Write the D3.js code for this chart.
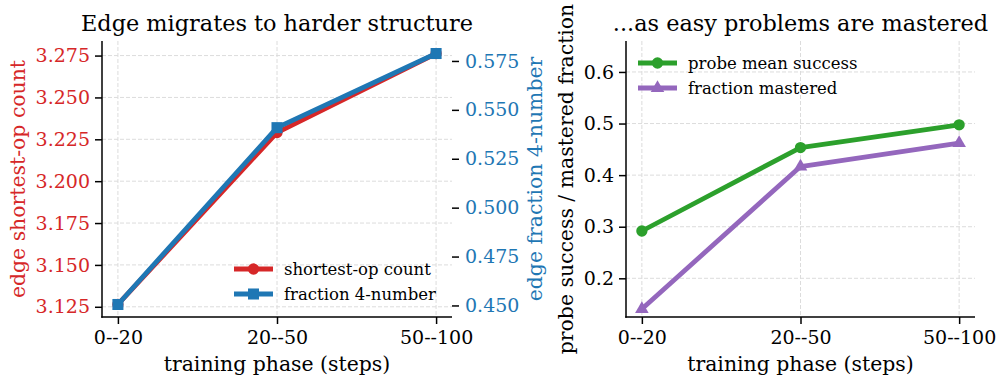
<!DOCTYPE html>
<html>
<head>
<meta charset="utf-8">
<script src="https://cdn.jsdelivr.net/npm/d3@7"></script>
<style>
  body { margin: 0; background: #fff; }
  svg { display: block; font-family: "DejaVu Serif", serif; }
</style>
</head>
<body>
<svg id="chart" width="997" height="381"></svg>
<script>
const phases = ["0--20", "20--50", "50--100"];
const shortestOp = [3.1264, 3.2290, 3.2762];
const frac4 = [0.4505, 0.5409, 0.5788];
const probeSuccess = [0.2917, 0.4535, 0.4975];
const fracMastered = [0.1405, 0.4167, 0.4620];

const leftTicks = [3.125, 3.150, 3.175, 3.200, 3.225, 3.250, 3.275];
const rightTicks = [0.450, 0.475, 0.500, 0.525, 0.550, 0.575];
const probeTicks = [0.2, 0.3, 0.4, 0.5, 0.6];

const RED = "#d62728", BLUE = "#1f77b4", GREEN = "#2ca02c", PURPLE = "#9467bd";
const plotTop = 41, plotBottom = 317;
const labelSize = 20.4, titleSize = 22.4, legendSize = 16.5;

const svg = d3.select("#chart");

function panel(x0, x1) {
    const g = svg.append("g");
    const x = d3.scalePoint().domain(phases).range([x0, x1]).padding(0.1);
    return { g, x, x0, x1 };
}

function grid(p, y, ticks) {
    const gg = p.g.append("g");
    gg.selectAll("line.v").data(phases).join("line").attr("class", "v")
        .attr("x1", d => p.x(d)).attr("x2", d => p.x(d))
        .attr("y1", plotTop).attr("y2", plotBottom);
    gg.selectAll("line.h").data(ticks).join("line").attr("class", "h")
        .attr("x1", p.x0).attr("x2", p.x1)
        .attr("y1", d => y(d)).attr("y2", d => y(d));
    gg.selectAll("line")
        .attr("stroke", "#dcdcdc").attr("stroke-width", 1)
        .attr("stroke-dasharray", "4,2");
}

function markSize(shape) {
    return shape === d3.symbolCircle ? 100 : shape === d3.symbolSquare ? 122 : 80;
}

function styleAxis(sel, color) {
    sel.select(".domain").remove();
    sel.selectAll(".tick line").attr("stroke", "#000").attr("stroke-width", 1.5);
    sel.selectAll(".tick text").attr("font-family", "DejaVu Serif")
        .attr("font-size", 19).attr("fill", color);
}

function spines(p) {
    p.g.append("line").attr("x1", p.x0).attr("x2", p.x0).attr("y1", plotTop).attr("y2", plotBottom + 0.75)
        .attr("stroke", "#000").attr("stroke-width", 1.5);
    p.g.append("line").attr("x1", p.x0 - 0.75).attr("x2", p.x1).attr("y1", plotBottom).attr("y2", plotBottom)
        .attr("stroke", "#000").attr("stroke-width", 1.5);
}

function xAxis(p) {
    const ax = p.g.append("g").attr("transform", `translate(0,${plotBottom})`)
        .call(d3.axisBottom(p.x).tickSize(7).tickPadding(7));
    styleAxis(ax, "#000");
    p.g.append("text").attr("x", (p.x0 + p.x1) / 2).attr("y", 371)
        .attr("text-anchor", "middle").attr("font-size", labelSize).text("training phase (steps)");
}

function series(p, y, values, color, shape) {
    const line = d3.line().x((d, i) => p.x(phases[i])).y(d => y(d));
    p.g.append("path").datum(values).attr("d", line)
        .attr("fill", "none").attr("stroke", color).attr("stroke-width", 4.8)
        .attr("stroke-linejoin", "round");
    p.g.append("g").selectAll("path").data(values).join("path")
        .attr("transform", (d, i) => `translate(${p.x(phases[i])},${y(d)})`)
        .attr("d", d3.symbol().type(shape).size(markSize(shape)))
        .attr("fill", color);
}

function legend(p, lx, ly, items) {
    items.forEach((it, i) => {
        const yy = ly + i * 25;
        p.g.append("line").attr("x1", lx).attr("x2", lx + 39).attr("y1", yy).attr("y2", yy)
            .attr("stroke", it.color).attr("stroke-width", 4.8);
        p.g.append("path").attr("transform", `translate(${lx + 19.5},${yy})`)
            .attr("d", d3.symbol().type(it.shape).size(markSize(it.shape)))
            .attr("fill", it.color);
        p.g.append("text").attr("x", lx + 50).attr("y", yy).attr("dy", "0.35em")
            .attr("font-size", legendSize).text(it.label);
    });
}

// left panel
const L = panel(102, 452);
const yL = d3.scaleLinear().domain([3.1189, 3.2837]).range([plotBottom, plotTop]);
const yR = d3.scaleLinear().domain([0.4441, 0.5852]).range([plotBottom, plotTop]);
grid(L, yL, leftTicks);
series(L, yL, shortestOp, RED, d3.symbolCircle);
series(L, yR, frac4, BLUE, d3.symbolSquare);
spines(L);
xAxis(L);
styleAxis(L.g.append("g").attr("transform", `translate(${L.x0},0)`)
    .call(d3.axisLeft(yL).tickValues(leftTicks).tickFormat(d3.format(".3f")).tickSize(7).tickPadding(5)), RED);
styleAxis(L.g.append("g").attr("transform", `translate(${L.x1},0)`)
    .call(d3.axisRight(yR).tickValues(rightTicks).tickFormat(d3.format(".3f")).tickSize(7).tickPadding(6)), BLUE);
L.g.append("text").attr("transform", `translate(24.5,${(plotTop + plotBottom) / 2}) rotate(-90)`)
    .attr("text-anchor", "middle").attr("font-size", labelSize).attr("fill", RED).text("edge shortest-op count");
L.g.append("text").attr("transform", `translate(541.5,${(plotTop + plotBottom) / 2}) rotate(-90)`)
    .attr("text-anchor", "middle").attr("font-size", labelSize).attr("fill", BLUE).text("edge fraction 4-number");
L.g.append("text").attr("x", (L.x0 + L.x1) / 2).attr("y", 31).attr("text-anchor", "middle")
    .attr("font-size", titleSize).text("Edge migrates to harder structure");
legend(L, 234, 269, [
    { label: "shortest-op count", color: RED, shape: d3.symbolCircle },
    { label: "fraction 4-number", color: BLUE, shape: d3.symbolSquare }
]);

// right panel
const R = panel(626, 975);
const yP = d3.scaleLinear().domain([0.125, 0.660]).range([plotBottom, plotTop]);
grid(R, yP, probeTicks);
series(R, yP, probeSuccess, GREEN, d3.symbolCircle);
series(R, yP, fracMastered, PURPLE, d3.symbolTriangle);
spines(R);
xAxis(R);
styleAxis(R.g.append("g").attr("transform", `translate(${R.x0},0)`)
    .call(d3.axisLeft(yP).tickValues(probeTicks).tickFormat(d3.format(".1f")).tickSize(7).tickPadding(5)), "#000");
R.g.append("text").attr("transform", `translate(573,${(plotTop + plotBottom) / 2}) rotate(-90)`)
    .attr("text-anchor", "middle").attr("font-size", labelSize).text("probe success / mastered fraction");
R.g.append("text").attr("x", (R.x0 + R.x1) / 2).attr("y", 31).attr("text-anchor", "middle")
    .attr("font-size", titleSize).text("...as easy problems are mastered");
legend(R, 638, 63, [
    { label: "probe mean success", color: GREEN, shape: d3.symbolCircle },
    { label: "fraction mastered", color: PURPLE, shape: d3.symbolTriangle }
]);
</script>
</body>
</html>
